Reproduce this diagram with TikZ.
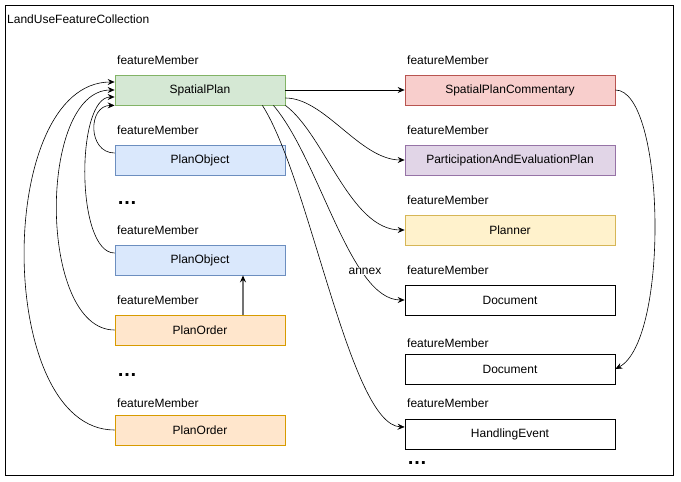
\documentclass[tikz,border=0pt]{standalone}
\usepackage{fontspec}
\setmainfont{Liberation Sans}
\usetikzlibrary{arrows.meta}
\definecolor{gfill}{HTML}{D5E8D4}\definecolor{gline}{HTML}{82B366}
\definecolor{bfill}{HTML}{DAE8FC}\definecolor{bline}{HTML}{6C8EBF}
\definecolor{ofill}{HTML}{FFE6CC}\definecolor{oline}{HTML}{D79B00}
\definecolor{rfill}{HTML}{F8CECC}\definecolor{rline}{HTML}{B85450}
\definecolor{pfill}{HTML}{E1D5E7}\definecolor{pline}{HTML}{9673A6}
\definecolor{yfill}{HTML}{FFF2CC}\definecolor{yline}{HTML}{D6B656}
\begin{document}
\begin{tikzpicture}[x=1pt,y=-1pt,
  font=\fontsize{12}{14}\selectfont,
  box/.style={draw, minimum height=30pt, inner sep=0pt, line width=0.8pt},
  lbox/.style={box, minimum width=170pt},
  rbox/.style={box, minimum width=210pt},
  green/.style={fill=gfill, draw=gline},
  blue/.style={fill=bfill, draw=bline},
  orange/.style={fill=ofill, draw=oline},
  red/.style={fill=rfill, draw=rline},
  purple/.style={fill=pfill, draw=pline},
  yellow/.style={fill=yfill, draw=yline},
  plain/.style={fill=white, draw=black},
  fm/.style={anchor=west, inner sep=0pt},
  dots/.style={anchor=base west, inner sep=0pt, font=\fontsize{20}{22}\selectfont\bfseries},
  arr/.style={line width=0.6pt, -{Stealth[length=7pt,width=6pt,inset=2.5pt]}}
]
\useasboundingbox (0,0) rectangle (681,482);
\draw[line width=0.8pt, fill=white] (5,5) rectangle (673,475);
\node[fm] (title) at (7,19) {LandUseFeatureCollection};

% left column
\node[fm] (fm1) at (117,60) {featureMember};
\node[lbox, green] (sp) at (200,90) {SpatialPlan};
\node[fm] (fm2) at (117,130) {featureMember};
\node[lbox, blue] (po1) at (200,160) {PlanObject};
\node[dots] (dl1) at (117,204) {…};
\node[fm] (fm3) at (117,230) {featureMember};
\node[lbox, blue] (po2) at (200,260) {PlanObject};
\node[fm] (fm4) at (117,300) {featureMember};
\node[lbox, orange] (or1) at (200,330) {PlanOrder};
\node[dots] (dl2) at (117,376.5) {…};
\node[fm] (fm5) at (117,403) {featureMember};
\node[lbox, orange] (or2) at (200,430) {PlanOrder};

% right column
\node[fm] (fm6) at (407,60) {featureMember};
\node[rbox, red] (spc) at (510,90) {SpatialPlanCommentary};
\node[fm] (fm7) at (407,130) {featureMember};
\node[rbox, purple] (pep) at (510,160) {ParticipationAndEvaluationPlan};
\node[fm] (fm8) at (407,200) {featureMember};
\node[rbox, yellow] (pl) at (510,230) {Planner};
\node[fm] (fm9) at (407,270) {featureMember};
\node[rbox, plain] (doc1) at (510,300) {Document};
\node[fm] (fm10) at (407,343) {featureMember};
\node[rbox, plain] (doc2) at (510,369) {Document};
\node[fm] (fm11) at (407,403) {featureMember};
\node[rbox, plain] (he) at (510,434) {HandlingEvent};
\node[dots] (dr) at (407,464) {…};

% left curves into SpatialPlan
\draw[arr] ([yshift=7pt]po1.west) .. controls +(-27,0) and +(-27,0) .. (sp.south west);
\draw[arr] ([yshift=7pt]po2.west) .. controls +(-39,0) and +(-39,0) .. ([yshift=-7pt]sp.west);
\draw[arr] (or1.west) .. controls +(-77,0) and +(-77,0) .. (sp.west);
\draw[arr] (or2.west) .. controls +(-120,0) and +(-120,0) .. ([yshift=8pt]sp.west);

% PlanOrder -> PlanObject
\draw[line width=1.5pt, draw=black!55, -{Stealth[length=7pt,width=6pt,inset=2.5pt,black]}]
  ([xshift=43pt]or1.north) -- ([xshift=43pt]po2.south);

% right curves from SpatialPlan
\draw[arr] (sp.east) -- (spc.west);
\draw[arr] ([yshift=-8pt]sp.east) .. controls (325,98) and (360,160) .. (pep.west);
\draw[arr] (sp.south east) .. controls (325,135) and (350,230) .. (pl.west);
\draw[arr] ([xshift=-12pt]sp.south east) .. controls (320,160) and (350,300) .. (doc1.west);
\draw[arr] ([xshift=-23pt]sp.south east) .. controls (310,180) and (350,425) .. ([yshift=7pt]he.west);
\node[fill=white, inner sep=1pt] (annex) at (365,271) {annex};

% Commentary -> Document
\draw[arr] (spc.east) .. controls (665,90) and (670,340) .. (doc2.east);
\end{tikzpicture}
\end{document}
